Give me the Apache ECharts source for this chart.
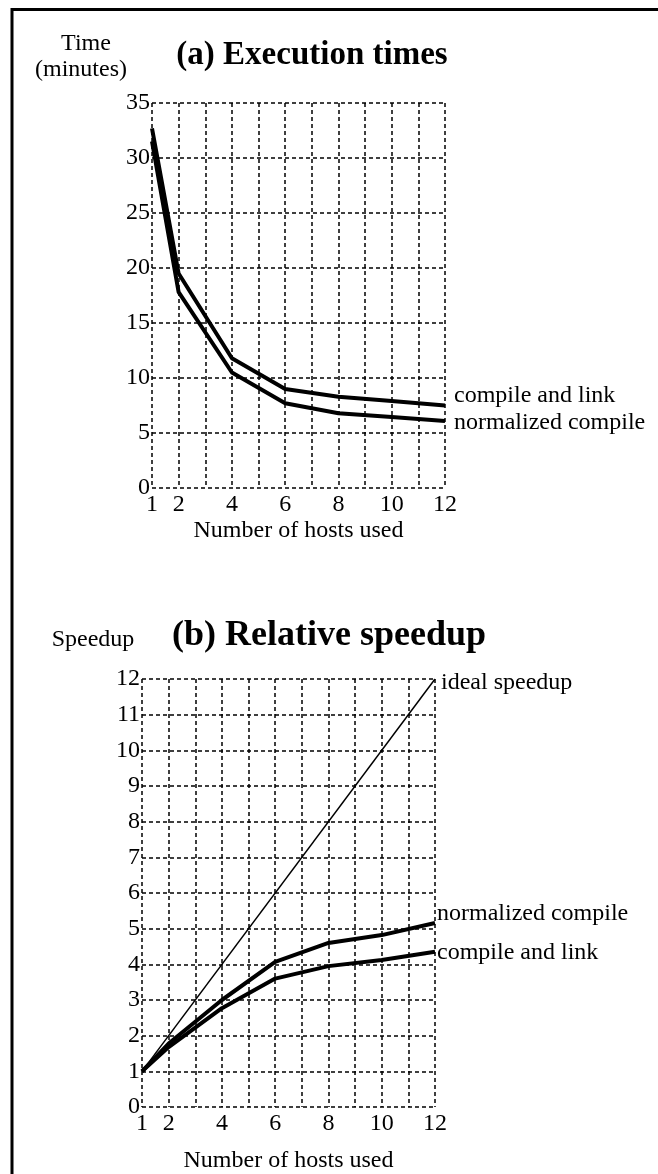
<!DOCTYPE html>
<html>
<head>
<meta charset="utf-8">
<script src="https://cdn.jsdelivr.net/npm/echarts@6/dist/echarts.min.js"></script>
<style>
html,body{margin:0;padding:0;background:#fff;}
#c{width:658px;height:1174px;}
</style>
</head>
<body>
<div id="c"></div>
<script>
// ---- data ----
const hosts = [1, 2, 4, 6, 8, 10, 12];
const xTickLabels = ['1', '2', '4', '6', '8', '10', '12'];
const timeCompileLink = [32.7, 19.5, 11.8, 9.0, 8.3, 7.9, 7.5];
const timeNormalized = [31.5, 17.8, 10.5, 7.7, 6.8, 6.45, 6.1];
const speedupNormalized = [1, 1.78, 3.0, 4.07, 4.6, 4.82, 5.16];
const speedupCompileLink = [1, 1.68, 2.77, 3.6, 3.95, 4.12, 4.35];
const idealHosts = [1, 12];
const idealSpeedup = [1, 12];

const FONT = '"Liberation Serif", "Times New Roman", serif';
const pair = (xs, ys) => xs.map((x, i) => [x, ys[i]]);

const chart = echarts.init(document.getElementById('c'), null, {renderer: 'canvas'});

const gridLine = {show: true, lineStyle: {color: '#000', width: 1.5, type: [4, 3]}};

function xAxis(gridIndex, nameGap) {
  return {
    gridIndex, type: 'value', min: 1, max: 12, interval: 1,
    axisLine: {show: false}, axisTick: {show: false},
    splitLine: gridLine,
    axisLabel: {
      color: '#000', fontFamily: FONT, fontSize: 24, margin: 5,
      formatter: v => xTickLabels.indexOf(String(v)) >= 0 ? String(v) : ''
    },
    name: 'Number of hosts used', nameLocation: 'middle', nameGap,
    nameTextStyle: {color: '#000', fontFamily: FONT, fontSize: 24}
  };
}
function yAxis(gridIndex, max, interval) {
  return {
    gridIndex, type: 'value', min: 0, max, interval,
    axisLine: {show: false}, axisTick: {show: false},
    splitLine: gridLine,
    axisLabel: {color: '#000', fontFamily: FONT, fontSize: 24, margin: 2}
  };
}
function lineSeries(name, xi, data, width, lbl, dist, dy) {
  return {
    name, type: 'line', xAxisIndex: xi, yAxisIndex: xi,
    data, symbol: 'none', silent: true, animation: false,
    lineStyle: {color: '#000', width},
    endLabel: {
      show: true, formatter: lbl, color: '#000', fontFamily: FONT, fontSize: 24,
      distance: dist, offset: [0, dy]
    }
  };
}

chart.setOption({
  animation: false,
  grid: [
    {left: 152, right: 213, top: 103, height: 385},
    {left: 142, right: 223, top: 679, height: 428}
  ],
  xAxis: [xAxis(0, 31), xAxis(1, 42)],
  yAxis: [yAxis(0, 35, 5), yAxis(1, 12, 1)],
  series: [
    lineSeries('compile and link', 0, pair(hosts, timeCompileLink), 4, 'compile and link', 9, -10),
    lineSeries('normalized compile', 0, pair(hosts, timeNormalized), 4, 'normalized compile', 9, 2),
    lineSeries('ideal speedup', 1, pair(idealHosts, idealSpeedup), 1.5, 'ideal speedup', 6, 4),
    lineSeries('normalized compile b', 1, pair(hosts, speedupNormalized), 4, 'normalized compile', 2, -9),
    lineSeries('compile and link b', 1, pair(hosts, speedupCompileLink), 4, 'compile and link', 2, 1)
  ],
  graphic: [
    {type: 'line', shape: {x1: 12, y1: 9.5, x2: 658, y2: 9.5}, style: {stroke: '#000', lineWidth: 3}},
    {type: 'line', shape: {x1: 12, y1: 8, x2: 12, y2: 1174}, style: {stroke: '#000', lineWidth: 3}},
    {type: 'text', x: 312, y: 55, style: {text: '(a) Execution times', font: 'bold 33px ' + FONT, fill: '#000', textAlign: 'center', textVerticalAlign: 'middle'}},
    {type: 'text', x: 329, y: 636, style: {text: '(b) Relative speedup', font: 'bold 36px ' + FONT, fill: '#000', textAlign: 'center', textVerticalAlign: 'middle'}},
    {type: 'text', x: 86, y: 44, style: {text: 'Time', font: '24px ' + FONT, fill: '#000', textAlign: 'center', textVerticalAlign: 'middle'}},
    {type: 'text', x: 81, y: 70, style: {text: '(minutes)', font: '24px ' + FONT, fill: '#000', textAlign: 'center', textVerticalAlign: 'middle'}},
    {type: 'text', x: 93, y: 640, style: {text: 'Speedup', font: '24px ' + FONT, fill: '#000', textAlign: 'center', textVerticalAlign: 'middle'}}
  ]
});
</script>
</body>
</html>
